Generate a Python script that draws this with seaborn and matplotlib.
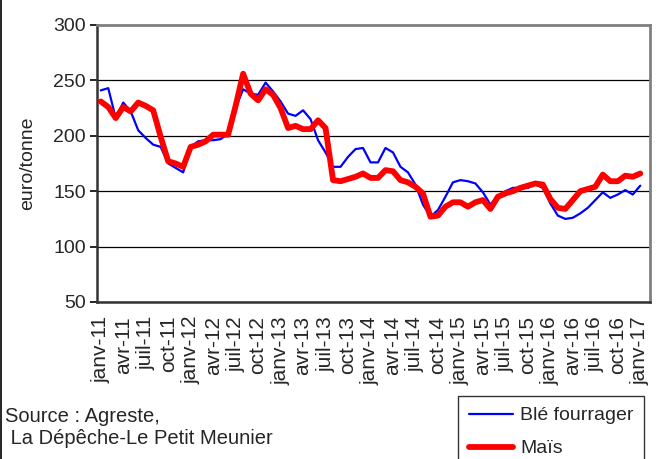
import matplotlib
matplotlib.use("Agg")
import matplotlib.pyplot as plt
import pandas as pd
import seaborn as sns
from matplotlib.lines import Line2D

# Prix mensuels janv-11 -> janv-17 (euro/tonne)
BLE_FOURRAGER = [
    241, 243, 216, 230, 222, 205, 198, 192, 190, 175, 171, 167,
    190, 195, 196, 196, 197, 202, 225, 242, 238, 237, 248, 240,
    231, 220, 218, 223, 215, 196, 185, 172, 172, 181, 188, 189,
    176, 176, 189, 185, 172, 167, 156, 138, 127, 133, 145, 158,
    160, 159, 157, 149, 138, 145, 150, 153, 153, 153, 156, 153,
    139, 128, 125, 126, 130, 135, 142, 149, 144, 147, 151, 147,
    155,
]
MAIS = [
    231, 226, 216, 226, 222, 230, 227, 223, 199, 177, 175, 172,
    190, 192, 195, 201, 201, 201, 227, 256, 238, 232, 242, 237,
    225, 207, 209, 206, 206, 214, 207, 160, 159, 161, 163, 166,
    162, 162, 169, 168, 160, 158, 154, 148, 127, 128, 136, 140,
    140, 136, 140, 142, 134, 145, 148, 150, 153, 155, 157, 156,
    143, 135, 134, 142, 150, 152, 154, 165, 159, 159, 164, 163,
    166,
]
TICK_LABELS = [
    "janv-11", "avr-11", "juil-11", "oct-11",
    "janv-12", "avr-12", "juil-12", "oct-12",
    "janv-13", "avr-13", "juil-13", "oct-13",
    "janv-14", "avr-14", "juil-14", "oct-14",
    "janv-15", "avr-15", "juil-15", "oct-15",
    "janv-16", "avr-16", "juil-16", "oct-16",
    "janv-17",
]
SERIES = ["Blé fourrager", "Maïs"]
COLORS = {"Blé fourrager": "#0000FF", "Maïs": "#FF0000"}
WIDTHS = {"Blé fourrager": 1.6, "Maïs": 4.2}

W, H = 659, 459


def main():
    sns.set_style("white")
    plt.rcParams["font.family"] = ["Liberation Sans", "DejaVu Sans"]
    plt.rcParams["font.size"] = 14

    n = len(BLE_FOURRAGER)
    df = pd.DataFrame({
        "mois": list(range(n)) * 2,
        "prix": BLE_FOURRAGER + MAIS,
        "serie": [SERIES[0]] * n + [SERIES[1]] * n,
    })

    fig = plt.figure(figsize=(W / 100, H / 100), dpi=100)
    ax = fig.add_axes([97 / W, 1 - 302 / H, (650 - 97) / W, (302 - 25) / H])

    for name in SERIES:
        sns.lineplot(data=df[df["serie"] == name], x="mois", y="prix",
                     color=COLORS[name], linewidth=WIDTHS[name], ax=ax,
                     legend=False, zorder=3)

    ax.set_xlim(-0.5, 73.3)
    ax.set_ylim(50, 300)
    ax.set_yticks(range(50, 301, 50))
    ax.yaxis.grid(True, color="black", linewidth=0.9)
    ax.set_axisbelow(True)

    ax.set_xticks(range(0, n, 3))
    ax.set_xticklabels(TICK_LABELS, rotation=90, fontsize=15)
    ax.set_xticks([x - 0.5 for x in range(0, n, 3)], minor=True)
    ax.tick_params(axis="x", which="major", length=0, pad=10)
    ax.tick_params(axis="x", which="minor", length=5, width=1.2, color="black", direction="out")
    ax.tick_params(axis="y", length=5, width=1.2, color="black", direction="out", labelsize=14, pad=3)
    ax.tick_params(axis="both", bottom=True, left=True)

    ax.set_xlabel("")
    ax.set_ylabel("euro/tonne", fontsize=14)
    ax.yaxis.set_label_coords(-0.11, 0.5)

    for side in ["top", "right"]:
        ax.spines[side].set_color("#808080")
        ax.spines[side].set_linewidth(2)
    for side in ["left", "bottom"]:
        ax.spines[side].set_color("#333333")
        ax.spines[side].set_linewidth(1.8)

    handles = [Line2D([], [], color=COLORS[s], linewidth=WIDTHS[s]) for s in SERIES]
    leg = fig.legend(handles, SERIES, loc="upper left",
                     bbox_to_anchor=(458 / W, 1 - 396 / H), fontsize=14,
                     frameon=True, fancybox=False, edgecolor="black",
                     handlelength=2.3, handletextpad=0.35, labelspacing=0.8,
                     borderpad=0.55, borderaxespad=0)
    leg.get_frame().set_linewidth(1.0)

    fig.text(5 / W, 1 - 416 / H, "Source : Agreste,", va="center", ha="left", fontsize=14.5)
    fig.text(5 / W, 1 - 438 / H, " La Dépêche-Le Petit Meunier", va="center", ha="left", fontsize=14.5)

    fig.add_artist(Line2D([0.6 / W, 0.6 / W], [0, 1], color="black", linewidth=1.2))

    fig.savefig("out.png", dpi=100)
    plt.close(fig)


if __name__ == "__main__":
    main()
